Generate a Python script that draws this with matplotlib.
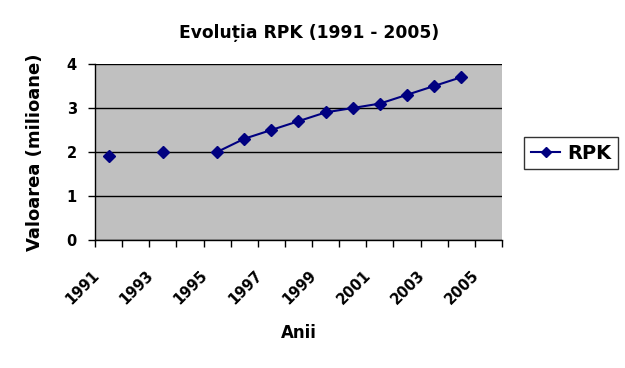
import numpy as np
import matplotlib
matplotlib.use("Agg")
import matplotlib.pyplot as plt
import matplotlib.transforms as mtransforms

# the reference text is wide (stretched Arial); DejaVu Sans Bold is close to that
plt.rcParams['font.family'] = ['DejaVu Sans']
plt.rcParams['font.weight'] = 'bold'

years = list(range(1991, 2006))
rpk = [1.9, None, 2.0, None, 2.0, 2.3, 2.5, 2.7, 2.9, 3.0, 3.1, 3.3, 3.5, 3.7, None]
label_years = [1991, 1993, 1995, 1997, 1999, 2001, 2003, 2005]
y_ticks = [0, 1, 2, 3, 4]

vals = np.array([np.nan if v is None else v for v in rpk])
pos = np.arange(len(years))

fig = plt.figure(figsize=(6.25, 3.68), dpi=100)
ax = fig.add_axes([0.152, 0.348, 0.651, 0.478])
ax.set_facecolor('#C0C0C0')

ax.plot(pos, vals, color='#000080', lw=1.5, marker='D', ms=6,
        mfc='#000080', mec='#000080', label='RPK', zorder=3)

ax.set_yticks(y_ticks)
ax.yaxis.grid(True, color='black', lw=1)
ax.set_axisbelow(True)

# category boundaries as ticks, no tick labels from the axis itself
ax.set_xticks(np.arange(len(years) + 1) - 0.5)
ax.set_xticklabels([])
ax.set_xlim(-0.5, len(years) - 0.5)
ax.set_ylim(0, 4)

# rotated year labels, drawn a little left of / below each category centre
lab_trans = ax.get_xaxis_transform() + mtransforms.ScaledTranslation(
    -0.17, -0.28, fig.dpi_scale_trans)
for y in label_years:
    ax.text(years.index(y), 0, str(y), transform=lab_trans, rotation=45,
            ha='right', va='top', rotation_mode='anchor', fontsize=10.5,
            fontweight='bold', clip_on=False)

ax.tick_params(axis='x', length=5, width=1, direction='out')
ax.tick_params(axis='y', length=5, width=1, direction='out', labelsize=10.5, pad=8)
for t in ax.get_yticklabels():
    t.set_fontweight('bold')

for s in ['top', 'right']:
    ax.spines[s].set_visible(False)
for s in ['left', 'bottom']:
    ax.spines[s].set_color('black')
    ax.spines[s].set_linewidth(1)

fig.text(0.494, 0.91, 'Evoluția RPK (1991 - 2005)', ha='center', va='center',
         fontsize=12.3, fontweight='bold')
fig.text(0.478, 0.095, 'Anii', ha='center', va='center',
         fontsize=12, fontweight='bold')
ax.set_ylabel('Valoarea (milioane)', fontsize=13, fontweight='bold', labelpad=16)

leg = fig.legend(loc='center', bbox_to_anchor=(0.914, 0.584), frameon=True,
                 fancybox=False, edgecolor='black', fontsize=14, handlelength=1.5,
                 borderpad=0.35, handletextpad=0.35, markerscale=0.8)
leg.get_frame().set_linewidth(1)

fig.savefig('out.png', dpi=100)
